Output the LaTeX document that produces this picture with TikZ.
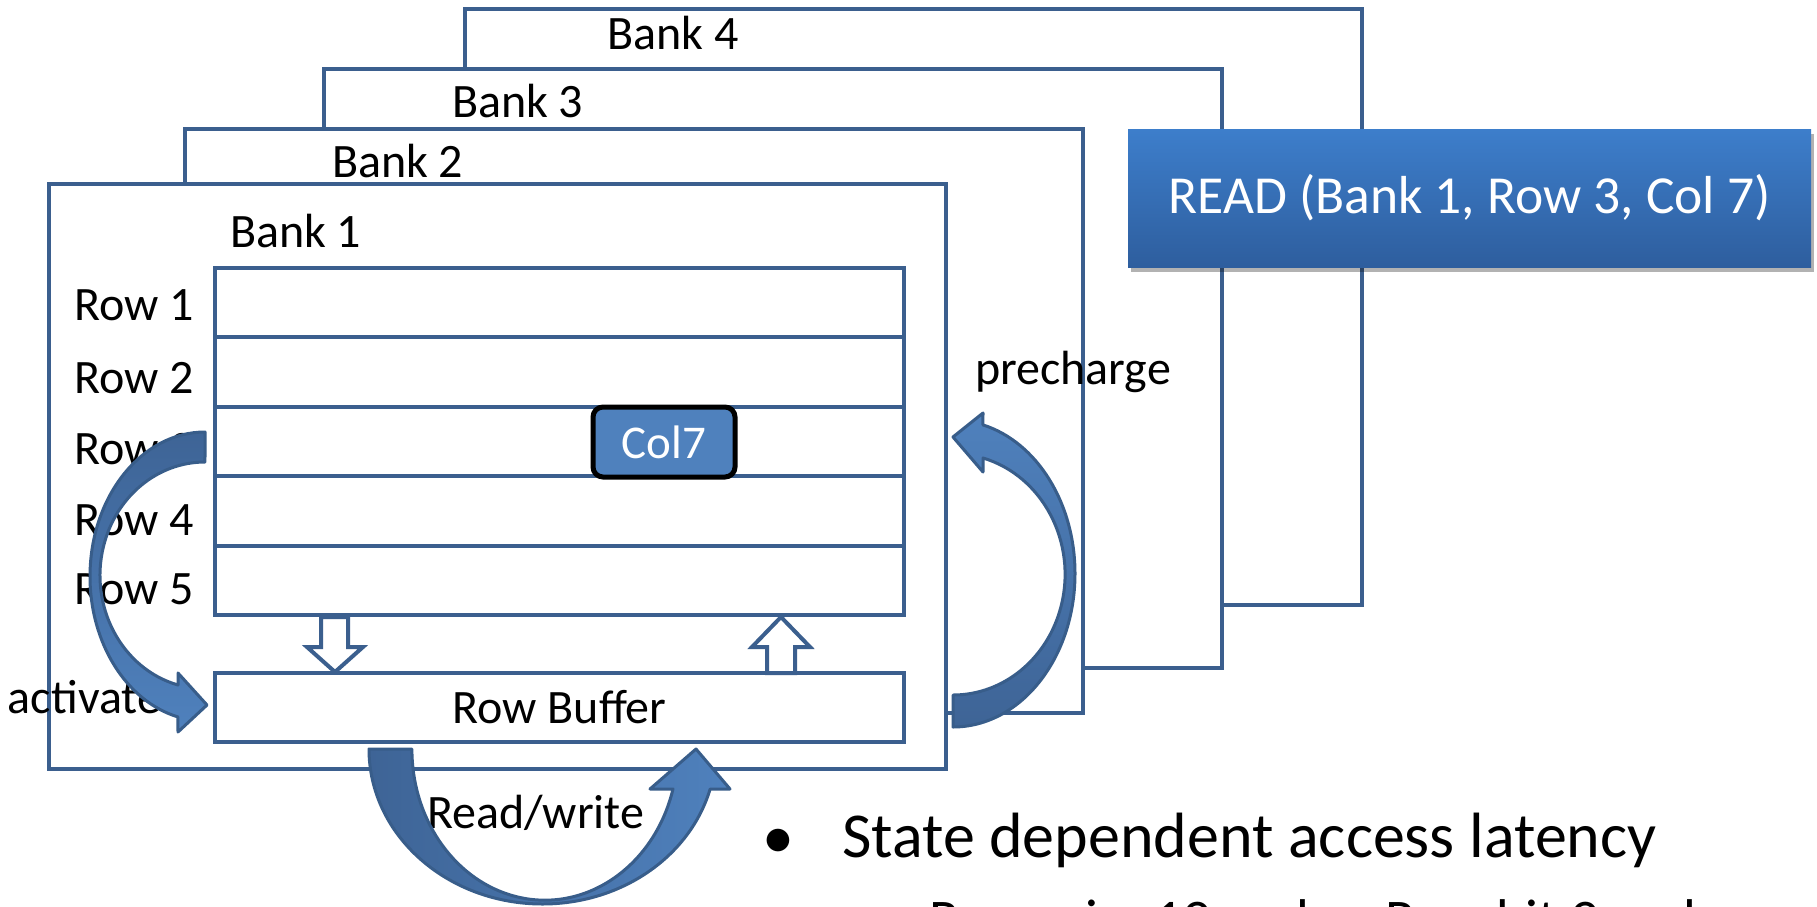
\documentclass[tikz,border=0pt]{standalone}
\usepackage{fontspec}
\setmainfont{Carlito}
\usetikzlibrary{shadows}

\definecolor{frameblue}{RGB}{59,95,142}
\definecolor{arrowedge}{RGB}{56,93,138}
\definecolor{arrowdark}{RGB}{62,100,150}
\definecolor{arrowlight}{RGB}{79,129,189}
\definecolor{cellblue}{RGB}{79,129,189}
\definecolor{cmdtop}{RGB}{61,126,203}
\definecolor{cmdbottom}{RGB}{46,94,158}

\begin{document}
\begin{tikzpicture}[x=1pt,y=-1pt,
  bankbox/.style={draw=frameblue, line width=4pt, fill=white, inner sep=0pt,
    outer sep=0pt, anchor=north west},
  rowcell/.style={draw=frameblue, line width=4pt, fill=white, inner sep=0pt,
    outer sep=0pt, anchor=north west, minimum width=689pt, minimum height=69.4pt},
  lbl/.style={inner sep=0pt, outer sep=0pt, anchor=base west,
    font=\fontsize{48}{57}\selectfont},
  bentarrow/.style={draw=arrowedge, line width=3pt, line join=round},
  hollow/.style={draw=frameblue, line width=4pt, fill=white, line join=miter},
]
\useasboundingbox (0,0) rectangle (1817,907);
\fill[white] (0,0) rectangle (1817,907);

% stacked banks, back to front
\node[bankbox, minimum width=897pt, minimum height=596pt] (bank4) at (465,9) {};
\node[bankbox, minimum width=898pt, minimum height=599pt] (bank3) at (324,69) {};
\node[bankbox, minimum width=898pt, minimum height=584pt] (bank2) at (185,129) {};
\node[bankbox, minimum width=897pt, minimum height=585pt] (bank1) at (49,184) {};

\node[lbl] (lbank4) at (607,49) {Bank 4};
\node[lbl] (lbank3) at (452,117) {Bank 3};
\node[lbl] (lbank2) at (332,177) {Bank 2};
\node[lbl] (lbank1) at (230,247) {Bank 1};

% command box
\node[draw=none, inner sep=0pt, minimum width=683pt, minimum height=138pt,
  top color=cmdtop, bottom color=cmdbottom,
  drop shadow={shadow xshift=3pt, shadow yshift=-5pt, fill=black, opacity=0.3},
  text=white, font=\fontsize{53.5}{62}\selectfont] (cmd) at (1469.5,198)
  {READ (Bank 1, Row 3, Col 7)};

% rows of the bank
\node[rowcell] (row1) at (215,268.0) {};
\node[rowcell] (row2) at (215,337.4) {};
\node[rowcell] (row3) at (215,406.8) {};
\node[rowcell] (row4) at (215,476.2) {};
\node[rowcell] (row5) at (215,545.6) {};

\node[lbl] (lrow1) at (74,320) {Row 1};
\node[lbl] (lrow2) at (74,393) {Row 2};
\node[lbl] (lrow3) at (74,464) {Row 3};
\node[lbl] (lrow4) at (74,535) {Row 4};
\node[lbl] (lrow5) at (74,604) {Row 5};

% selected column
\node[draw=black, line width=5pt, rounded corners=10pt, fill=cellblue,
  minimum width=142pt, minimum height=70pt, inner sep=0pt, text=white,
  font=\fontsize{47}{56}\selectfont] (col7) at (664,442) {Col7};

% row buffer
\node[rowcell, minimum height=69pt, font=\fontsize{48}{57}\selectfont] (rowbuf)
  at (215,673) {Row Buffer};

% transfer arrows between array and buffer
\draw[hollow] (321,617) -- (321,647) -- (307,647) -- (335,672) -- (363,647)
  -- (348,647) -- (348,617) -- cycle;
\draw[hollow] (767,673) -- (767,647) -- (752,647) -- (781,617) -- (810,647)
  -- (795,647) -- (795,673) -- cycle;

% operation labels
\node[lbl] (lact) at (8,713) {activate};
\node[lbl] (lpre) at (975,384) {precharge};
\node[lbl] (lrw) at (427,828) {Read/write};

% activate: row 3 into the row buffer
\path[bentarrow, top color=arrowdark, bottom color=arrowlight]
  (205,432) arc[start angle=-90, end angle=-256.4, x radius=115, y radius=144.5]
  -- (178,732) -- (207,705) -- (178,673) -- (178,685)
  arc[start angle=-255.1, end angle=-90, x radius=105, y radius=113.4]
  -- cycle;

% precharge: row buffer back into the array
\path[bentarrow, top color=arrowlight, bottom color=arrowdark]
  (953,727) arc[start angle=90, end angle=-75.8, x radius=122, y radius=153.4]
  -- (983,413) -- (953,437) -- (983,472) -- (983,458)
  arc[start angle=-74.5, end angle=90, x radius=112, y radius=120.7]
  -- cycle;

% read/write on the row buffer
\path[bentarrow, left color=arrowdark, right color=arrowlight]
  (369,749) arc[start angle=180, end angle=15, x radius=173.5, y radius=155]
  -- (730,789) -- (696,749) -- (650,789) -- (673,789)
  arc[start angle=15.3, end angle=180, x radius=132.9, y radius=151]
  -- cycle;

% bullet text
\node[inner sep=0pt, anchor=base, font=\fontsize{64}{76}\selectfont] (dot1)
  at (778,858) {•};
\node[inner sep=0pt, anchor=base west, font=\fontsize{64}{76}\selectfont] (bul1)
  at (842,857) {State dependent access latency};
\node[inner sep=0pt, anchor=base west, font=\fontsize{56}{67}\selectfont] (dash2)
  at (872,938) {–};
\node[inner sep=0pt, anchor=base west, font=\fontsize{56}{67}\selectfont] (bul2)
  at (929,938) {Row miss 19 cycles, Row hit 9 cycles};
\end{tikzpicture}
\end{document}
